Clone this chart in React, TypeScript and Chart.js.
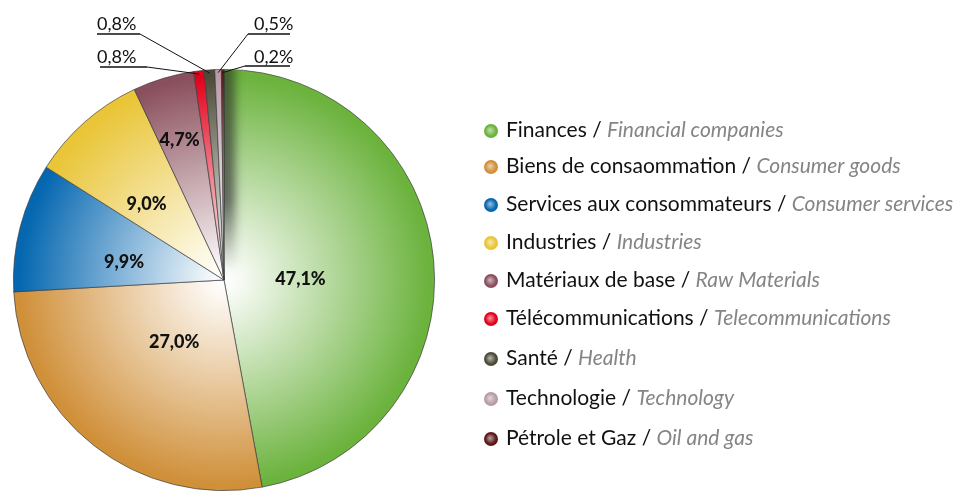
import React, { useEffect, useRef } from 'react';
import { Chart, registerables } from 'chart.js';
Chart.register(...registerables);

const sectorsFr = ['Finances', 'Biens de consaommation', 'Services aux consommateurs', 'Industries', 'Matériaux de base', 'Télécommunications', 'Santé', 'Technologie', 'Pétrole et Gaz'];
const sectorsEn = ['Financial companies', 'Consumer goods', 'Consumer services', 'Industries', 'Raw Materials', 'Telecommunications', 'Health', 'Technology', 'Oil and gas'];
const shares = [47.1, 27.0, 9.9, 9.0, 4.7, 0.8, 0.8, 0.5, 0.2];
const shareLabels = ['47,1%', '27,0%', '9,9%', '9,0%', '4,7%', '0,8%', '0,8%', '0,5%', '0,2%'];
const sliceColors = ['#6cb33e', '#d0903a', '#0467b0', '#e9c537', '#8a4f5c', '#e2001a', '#4d4a38', '#b79ca7', '#5b1719'];

// layout (not data)
const FONT = 'Lato, "Open Sans", sans-serif';
const innerLabelRadius = [0.36, 0.375, 0.49, 0.52, 0.7];
const innerLabelShift = [[1, 6], [-1, 0], [0, 8], [-5, 6], [-2, 1]];
const outsideLabels: Record<number, { tx: number; ty: number; ux0: number; ux1: number; uy: number; side: 'l' | 'r' }> = {
  6: { tx: 97, ty: 24, ux0: 97, ux1: 140, uy: 34, side: 'l' },
  5: { tx: 97, ty: 57, ux0: 100, ux1: 147, uy: 67, side: 'l' },
  7: { tx: 254, ty: 24, ux0: 248, ux1: 290, uy: 34, side: 'r' },
  8: { tx: 254, ty: 57, ux0: 245, ux1: 290, uy: 66, side: 'r' },
};
const legendX = 491;
const legendRowY = [130, 166, 204, 242, 280, 318, 358, 398, 438];

function hexToRgb(h: string) {
  const n = parseInt(h.slice(1), 16);
  return [(n >> 16) & 255, (n >> 8) & 255, n & 255];
}
function mix(h: string, t: number) {
  const [r, g, b] = hexToRgb(h);
  const m = (c: number) => Math.round(255 + (c - 255) * t);
  return `rgb(${m(r)},${m(g)},${m(b)})`;
}

const shadowPlugin = {
  id: 'shadowBand',
  afterDatasetsDraw(chart: any) {
    const arc = chart.getDatasetMeta(0).data[0];
    if (!arc) return;
    const { x, y, outerRadius, startAngle, endAngle } = arc.getProps(['x', 'y', 'outerRadius', 'startAngle', 'endAngle'], true);
    const ctx = chart.ctx;
    ctx.save();
    ctx.beginPath();
    ctx.moveTo(x, y);
    ctx.arc(x, y, outerRadius - 1, startAngle, endAngle);
    ctx.closePath();
    ctx.clip();
    ctx.filter = 'blur(5px)';
    const g = ctx.createLinearGradient(0, y - outerRadius, 0, y - 10);
    g.addColorStop(0, 'rgba(40,40,40,0.6)');
    g.addColorStop(0.65, 'rgba(40,40,40,0.65)');
    g.addColorStop(1, 'rgba(40,40,40,0)');
    ctx.fillStyle = g;
    ctx.fillRect(x - 8, y - outerRadius - 10, 19, outerRadius);
    ctx.restore();
  },
};

const labelPlugin = {
  id: 'sliceLabels',
  afterDraw(chart: any) {
    const ctx = chart.ctx;
    const meta = chart.getDatasetMeta(0);
    ctx.save();
    meta.data.forEach((arc: any, i: number) => {
      const { x, y, outerRadius, startAngle, endAngle } = arc.getProps(['x', 'y', 'outerRadius', 'startAngle', 'endAngle'], true);
      const mid = (startAngle + endAngle) / 2;
      if (i < innerLabelRadius.length) {
        const r = outerRadius * innerLabelRadius[i];
        ctx.font = `900 18px ${FONT}`;
        ctx.fillStyle = '#111';
        ctx.textAlign = 'center';
        ctx.textBaseline = 'middle';
        const [dx, dy] = innerLabelShift[i];
        ctx.fillText(shareLabels[i], x + Math.cos(mid) * r + dx, y + Math.sin(mid) * r + dy);
      } else {
        const o = outsideLabels[i];
        const ax = x + Math.cos(mid) * outerRadius * 0.985;
        const ay = y + Math.sin(mid) * outerRadius * 0.985;
        ctx.font = `18px ${FONT}`;
        ctx.fillStyle = '#111';
        ctx.textAlign = 'left';
        ctx.textBaseline = 'middle';
        ctx.fillText(shareLabels[i], o.tx, o.ty);
        ctx.strokeStyle = '#111';
        ctx.lineWidth = 1.6;
        ctx.beginPath();
        ctx.moveTo(o.ux0, o.uy);
        ctx.lineTo(o.ux1, o.uy);
        ctx.stroke();
        ctx.lineWidth = 1;
        ctx.beginPath();
        if (o.side === 'l') ctx.moveTo(o.ux1, o.uy);
        else ctx.moveTo(o.ux0, o.uy);
        ctx.lineTo(ax, ay);
        ctx.stroke();
      }
    });
    // legend
    sectorsFr.forEach((fr, i) => {
      const cy = legendRowY[i];
      const col = sliceColors[i];
      const g = ctx.createRadialGradient(legendX - 1, cy, 0.5, legendX, cy + 1, 7.5);
      g.addColorStop(0, mix(col, 0.45));
      g.addColorStop(0.7, col);
      g.addColorStop(1, col);
      ctx.fillStyle = g;
      ctx.beginPath();
      ctx.arc(legendX, cy + 1, 7, 0, Math.PI * 2);
      ctx.fill();
      ctx.textAlign = 'left';
      ctx.textBaseline = 'middle';
      ctx.font = `21px ${FONT}`;
      ctx.fillStyle = '#111';
      const part1 = fr + ' / ';
      ctx.fillText(part1, 506, cy);
      const w = ctx.measureText(part1).width;
      ctx.font = `italic 21px ${FONT}`;
      ctx.fillStyle = '#858585';
      ctx.fillText(sectorsEn[i], 506 + w, cy);
    });
    ctx.restore();
  },
};

export default function App() {
  const ref = useRef<HTMLCanvasElement>(null);
  useEffect(() => {
    if (!ref.current) return;
    const chart = new Chart(ref.current, {
      type: 'pie',
      data: {
        labels: sectorsFr,
        datasets: [
          {
            data: shares,
            backgroundColor: (c: any) => {
              const col = sliceColors[c.dataIndex];
              const area = c.chart.chartArea;
              if (!area) return col;
              const cx = (area.left + area.right) / 2;
              const cy = (area.top + area.bottom) / 2;
              const r = Math.min(area.right - area.left, area.bottom - area.top) / 2;
              const g = c.chart.ctx.createRadialGradient(cx, cy, 0, cx, cy, r);
              g.addColorStop(0, '#ffffff');
              g.addColorStop(0.08, mix(col, 0.06));
              g.addColorStop(0.5, mix(col, 0.5));
              g.addColorStop(0.97, col);
              g.addColorStop(1, col);
              return g;
            },
            borderColor: 'rgba(60,60,60,0.85)',
            borderWidth: 0.8,
          },
        ],
      },
      options: {
        animation: false,
        responsive: true,
        maintainAspectRatio: false,
        layout: { padding: { left: 13, top: 69, right: 527, bottom: 0 } },
        plugins: { legend: { display: false }, tooltip: { enabled: false } },
      },
      plugins: [shadowPlugin, labelPlugin],
    });
    return () => chart.destroy();
  }, []);
  return (
    <div style={{ position: 'fixed', left: 0, top: 0, width: 962, height: 491, background: '#fff' }}>
      <canvas ref={ref} />
    </div>
  );
}
